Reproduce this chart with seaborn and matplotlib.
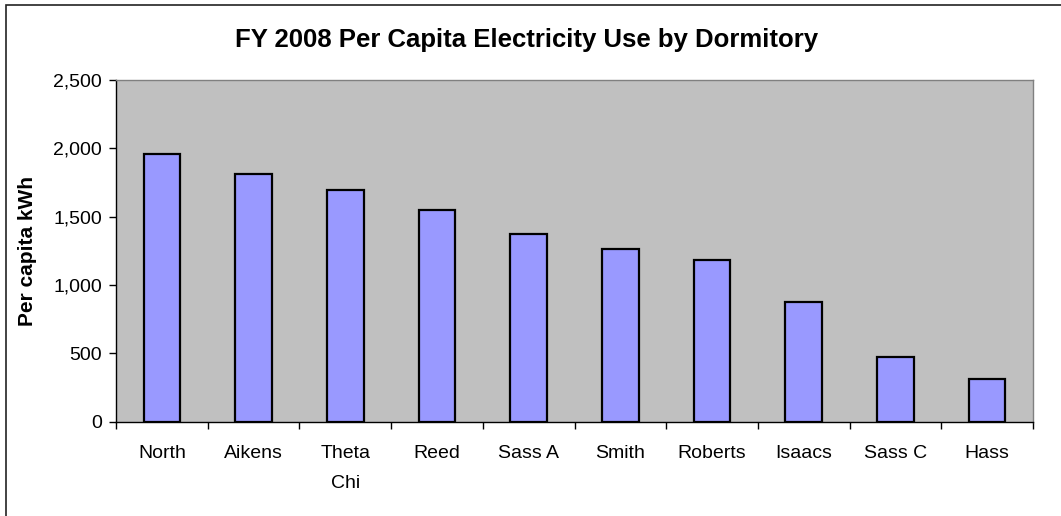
import matplotlib
matplotlib.use("Agg")
import matplotlib.pyplot as plt
from matplotlib.patches import Rectangle
from matplotlib.ticker import FixedLocator, FuncFormatter
import seaborn as sns
import pandas as pd

dorms = ["North", "Aikens", "Theta\nChi", "Reed", "Sass A", "Smith",
         "Roberts", "Isaacs", "Sass C", "Hass"]
kwh_per_capita = [1959, 1813, 1696, 1550, 1374, 1262, 1184, 877, 471, 310]
y_ticks = [0, 500, 1000, 1500, 2000, 2500]

sns.set_theme(style="white")
plt.rcParams["font.family"] = ["Liberation Sans", "DejaVu Sans"]
plt.rcParams["text.color"] = "black"
plt.rcParams["xtick.color"] = "black"
plt.rcParams["ytick.color"] = "black"
plt.rcParams["axes.labelcolor"] = "black"

df = pd.DataFrame({"dorm": dorms, "kwh": kwh_per_capita})

fig = plt.figure(figsize=(10.61, 5.16), dpi=100)
ax = fig.add_axes([116 / 1061, 1 - 421.7 / 516, (1033 - 116) / 1061, (421.7 - 80) / 516])

sns.barplot(data=df, x="dorm", y="kwh", color="#9999FF", width=0.4,
            edgecolor="black", linewidth=1.6, saturation=1, ax=ax)

ax.set_facecolor("#C0C0C0")
ax.set_xlim(-0.5, len(dorms) - 0.5)
ax.set_ylim(0, 2500)
ax.set_yticks(y_ticks)
ax.yaxis.set_major_formatter(FuncFormatter(lambda v, _: f"{int(v):,}"))

# tick marks sit on category boundaries, labels centred under bars
ax.xaxis.set_minor_locator(FixedLocator([i + 0.5 for i in range(-1, len(dorms))]))
ax.tick_params(axis="x", which="major", length=0, pad=17, labelsize=14)
ax.tick_params(axis="x", which="minor", bottom=True, length=5, width=1, color="black")
ax.tick_params(axis="y", which="major", left=True, length=5, width=1, color="black",
               labelsize=14, pad=5)
for lbl in ax.get_xticklabels():
    lbl.set_linespacing(2.0)

for side in ("left", "bottom"):
    ax.spines[side].set_color("black")
    ax.spines[side].set_linewidth(1)
for side in ("top", "right"):
    ax.spines[side].set_color("#808080")
    ax.spines[side].set_linewidth(1)

ax.set_xlabel("")
ax.set_ylabel("Per capita kWh", fontsize=15, fontweight="bold", labelpad=12)

fig.suptitle("FY 2008 Per Capita Electricity Use by Dormitory",
             x=527 / 1061, y=1 - 40 / 516, va="center", fontsize=18.5, fontweight="bold")

# chart-area frame
fig.patches.append(Rectangle((6 / 1061, -0.1), 1.2, 1 - 5 / 516 + 0.1,
                             transform=fig.transFigure, fill=False,
                             edgecolor="#222222", linewidth=1.2))

fig.savefig("out.png", dpi=100)
